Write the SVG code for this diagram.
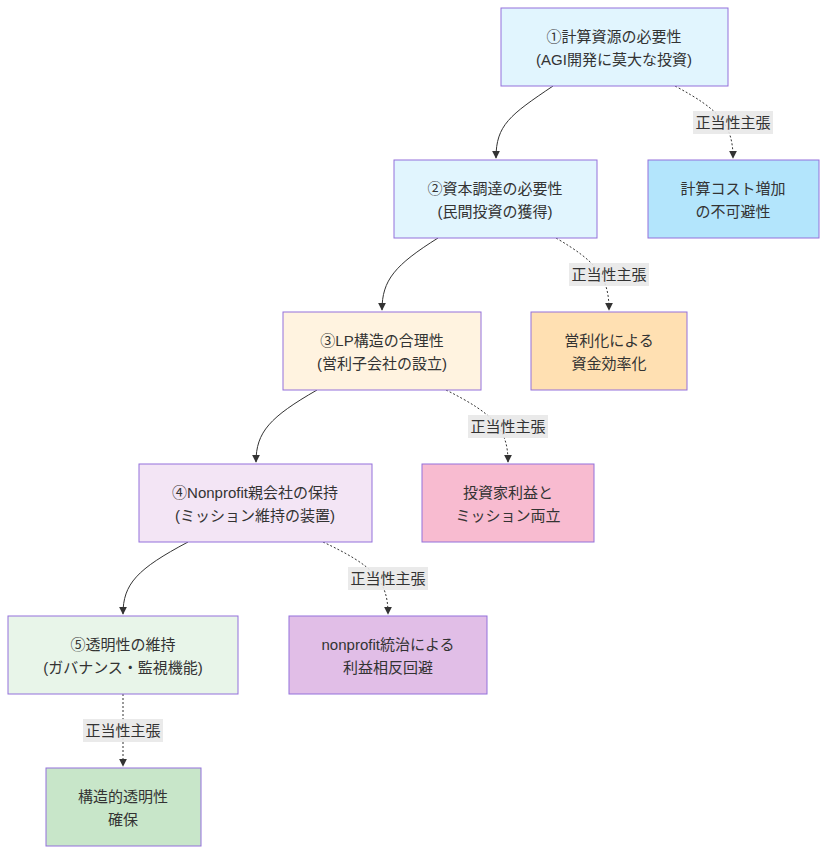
<svg xmlns="http://www.w3.org/2000/svg" width="828" height="854" viewBox="0 0 828 854">
<style>
text{font-family:"Liberation Sans","Noto Sans CJK JP",sans-serif;font-size:15px;fill:#333;text-anchor:middle}
.n{stroke:#9370db;stroke-width:1}
.e{fill:none;stroke:#333;stroke-width:1}
.d{stroke-dasharray:2 2}
.lb{fill:#e8e8e8;opacity:0.9}
</style>
<defs><marker id="a" viewBox="0 0 10 10" refX="9" refY="5" markerWidth="8" markerHeight="8" orient="auto"><path d="M0,0L10,5L0,10z" fill="#333"/></marker></defs>
<rect width="828" height="854" fill="#fff"/>
<g id="connectors">
<path class="e" d="M553,86C510,115 496,125 496,158" marker-end="url(#a)"/>
<path class="e" d="M438,238C395,265 382,280 382,310" marker-end="url(#a)"/>
<path class="e" d="M317,390C270,417 256,432 256,462" marker-end="url(#a)"/>
<path class="e" d="M188,542C137,569 123,584 123,614" marker-end="url(#a)"/>
<path class="e d" d="M675,86C720,110 733,125 733,158" marker-end="url(#a)"/>
<path class="e d" d="M556,238C597,262 609,277 609,310" marker-end="url(#a)"/>
<path class="e d" d="M446,390C494,414 508,429 508,462" marker-end="url(#a)"/>
<path class="e d" d="M323,542C374,566 388,581 388,614" marker-end="url(#a)"/>
<path class="e d" d="M123,694L123,766" marker-end="url(#a)"/>
<rect class="lb" x="693" y="111" width="80" height="23"/><text x="733" y="128">正当性主張</text>
<rect class="lb" x="569" y="263" width="80" height="23"/><text x="609" y="280">正当性主張</text>
<rect class="lb" x="468" y="415" width="80" height="23"/><text x="508" y="432">正当性主張</text>
<rect class="lb" x="348" y="567" width="80" height="23"/><text x="388" y="584">正当性主張</text>
<rect class="lb" x="83" y="719" width="80" height="23"/><text x="123" y="736">正当性主張</text>
</g>
<g id="n1"><rect class="n" x="501" y="8" width="227" height="78" fill="#e1f5fe"/><text x="614" y="42">①計算資源の必要性</text><text x="614" y="65">(AGI開発に莫大な投資)</text></g>
<g id="n2"><rect class="n" x="394" y="160" width="203" height="78" fill="#e1f5fe"/><text x="495" y="194">②資本調達の必要性</text><text x="495" y="217">(民間投資の獲得)</text></g>
<g id="n3"><rect class="n" x="283" y="312" width="198" height="78" fill="#fff3e0"/><text x="382" y="346">③LP構造の合理性</text><text x="382" y="369">(営利子会社の設立)</text></g>
<g id="n4"><rect class="n" x="139" y="464" width="233" height="78" fill="#f3e5f5"/><text x="255" y="498">④Nonprofit親会社の保持</text><text x="255" y="521">(ミッション維持の装置)</text></g>
<g id="n5"><rect class="n" x="8" y="616" width="230" height="78" fill="#e8f5e9"/><text x="123" y="650">⑤透明性の維持</text><text x="123" y="673">(ガバナンス・監視機能)</text></g>
<g id="nA"><rect class="n" x="648" y="160" width="171" height="78" fill="#b3e5fc"/><text x="733" y="194">計算コスト増加</text><text x="733" y="217">の不可避性</text></g>
<g id="nB"><rect class="n" x="531" y="312" width="156" height="78" fill="#ffe0b2"/><text x="609" y="346">営利化による</text><text x="609" y="369">資金効率化</text></g>
<g id="nC"><rect class="n" x="422" y="464" width="172" height="78" fill="#f8bbd0"/><text x="508" y="498">投資家利益と</text><text x="508" y="521">ミッション両立</text></g>
<g id="nD"><rect class="n" x="289" y="616" width="198" height="78" fill="#e1bee7"/><text x="388" y="650">nonprofit統治による</text><text x="388" y="673">利益相反回避</text></g>
<g id="nE"><rect class="n" x="46" y="768" width="155" height="78" fill="#c8e6c9"/><text x="123" y="802">構造的透明性</text><text x="123" y="825">確保</text></g>
</svg>
